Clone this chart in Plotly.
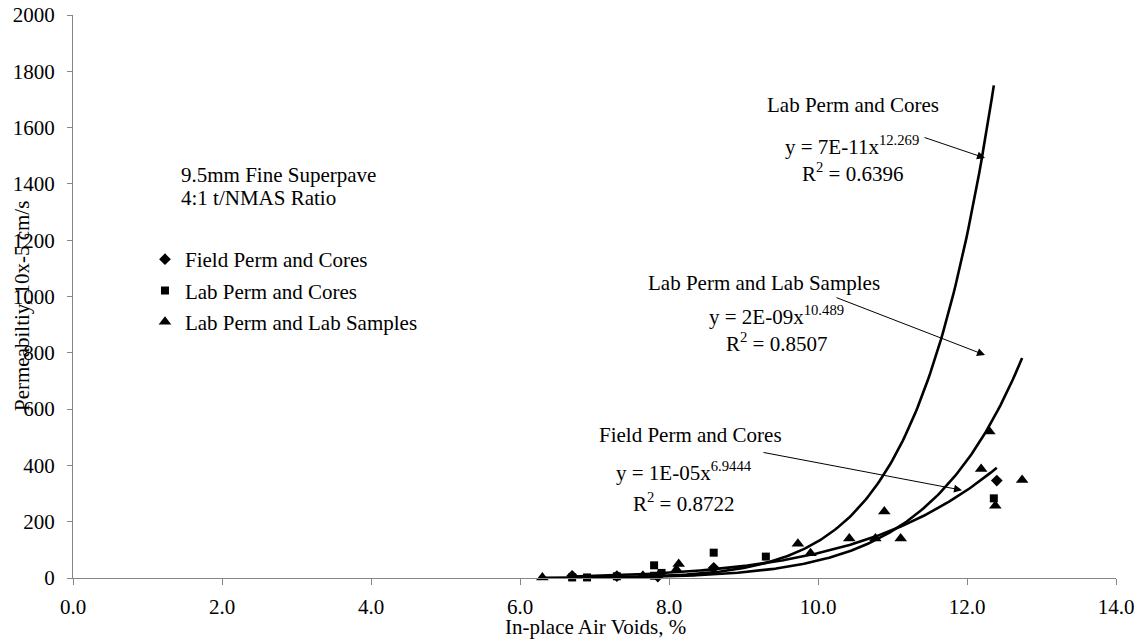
import numpy as np
import plotly.graph_objects as go

FONT = "Liberation Serif, Times New Roman, serif"

# Measured permeability vs in-place air voids
field_voids = [6.7, 7.3, 7.85, 8.6, 12.4]
field_perm = [8, 7, 5, 36, 346]

core_voids = [6.7, 6.9, 7.3, 7.8, 7.8, 7.9, 8.6, 9.3, 12.36]
core_perm = [2, 2, 6, 45, 8, 18, 90, 76, 283]

sample_voids = [6.3, 7.65, 8.1, 8.13, 9.73, 9.9, 10.42, 10.77, 10.89, 11.11, 12.19, 12.3, 12.38, 12.74]
sample_perm = [2, 8, 30, 50, 122, 88, 140, 140, 236, 140, 387, 520, 257, 348]

# Power-law trendlines y = a * x^b, with R^2
field_fit = (1e-05, 6.9444, 0.8722)
core_fit = (7e-11, 12.269, 0.6396)
sample_fit = (2e-09, 10.489, 0.8507)

x_ticks = [0, 2, 4, 6, 8, 10, 12, 14]
y_ticks = [0, 200, 400, 600, 800, 1000, 1200, 1400, 1600, 1800, 2000]


def power_curve(xs, fit):
    a, b, _ = fit
    xx = np.linspace(min(xs), max(xs), 200)
    return xx, a * xx ** b


fig = go.Figure()

series = [
    ("Field Perm and Cores", field_voids, field_perm, "diamond", 9),
    ("Lab Perm and Cores", core_voids, core_perm, "square", 8),
    ("Lab Perm and Lab Samples", sample_voids, sample_perm, "triangle-up", 11),
]
for i, (name, xs, ys, sym, sz) in enumerate(series):
    fig.add_trace(go.Scatter(
        x=xs, y=ys, mode="markers", name=name, legendgroup=f"g{i}",
        marker=dict(symbol=sym, size=sz, color="black"),
        cliponaxis=False,
    ))

for xs, fit in [(field_voids, field_fit), (core_voids, core_fit), (sample_voids, sample_fit)]:
    cx, cy = power_curve(xs, fit)
    fig.add_trace(go.Scatter(
        x=cx, y=cy, mode="lines", showlegend=False, hoverinfo="skip",
        line=dict(color="black", width=2.6),
    ))

tf = dict(family=FONT, size=21, color="black")
ann = []


def label(x, y, text, xanchor="center"):
    ann.append(dict(x=x, y=y, xref="x", yref="y", text=text, showarrow=False,
                    font=tf, xanchor=xanchor, yanchor="middle"))


def eq_text(fit):
    a, b, _ = fit
    mant, exp = f"{a:.0E}".split("E")
    return f"y = {mant}E{exp}x<sup>{b:g}</sup>"


def r2_text(fit):
    return f"R<sup>2</sup> = {fit[2]:.4f}"


# Trendline labels
label(10.47, 1680, "Lab Perm and Cores")
label(10.46, 1538, eq_text(core_fit))
label(10.46, 1442, r2_text(core_fit))

label(9.275, 1048, "Lab Perm and Lab Samples")
label(9.44, 931, eq_text(sample_fit))
label(9.44, 835, r2_text(sample_fit))

label(8.295, 508, "Field Perm and Cores")
label(8.20, 377, eq_text(field_fit))
label(8.20, 270, r2_text(field_fit))

# Mix description
label(1.423, 1432, "9.5mm Fine Superpave", xanchor="left")
label(1.423, 1350, "4:1 t/NMAS Ratio", xanchor="left")

# Leader arrows pointing at the curves
for hx, hy, ax, ay in [(12.242, 1492, -62, -21), (12.242, 792, -150, -58), (11.933, 312, -200, -38)]:
    ann.append(dict(x=hx, y=hy, xref="x", yref="y", text="", showarrow=True,
                    ax=ax, ay=ay, arrowhead=2, arrowsize=1.6, arrowwidth=1,
                    arrowcolor="black"))

# Axis titles
ann.append(dict(x=(595 - 73) / 1043, y=-0.087, xref="paper", yref="paper",
                text="In-place Air Voids, %", showarrow=False, font=tf,
                xanchor="center", yanchor="middle"))
ann.append(dict(x=(22 - 73) / 1043, y=(578 - 306) / 563, xref="paper", yref="paper",
                text="Permeabiltiy, 10x-5 cm/s", showarrow=False, font=tf,
                textangle=-90, xanchor="center", yanchor="middle"))

axis_color = "#868686"
fig.update_layout(
    width=1142, height=641,
    margin=dict(l=73, r=26, t=15, b=63, autoexpand=False),
    plot_bgcolor="white", paper_bgcolor="white",
    font=tf,
    showlegend=True,
    legend=dict(x=0.069, y=0.602, xanchor="left", yanchor="top",
                bgcolor="rgba(0,0,0,0)", font=tf, tracegroupgap=1,
                itemsizing="trace"),
    annotations=ann,
    xaxis=dict(range=[0, 14], tickvals=x_ticks,
               ticktext=[f"{v:.1f}" for v in x_ticks],
               showgrid=False, zeroline=False, showline=True,
               linecolor=axis_color, linewidth=1, ticks="outside",
               ticklen=6, tickcolor=axis_color, tickfont=tf,
               ticklabelstandoff=4, automargin=False),
    yaxis=dict(range=[0, 2000], tickvals=y_ticks,
               showgrid=False, zeroline=False, showline=True,
               linecolor=axis_color, linewidth=1, ticks="outside",
               ticklen=5, tickcolor=axis_color, tickfont=tf,
               ticklabelstandoff=8, automargin=False),
)

fig.write_html("out.html")
